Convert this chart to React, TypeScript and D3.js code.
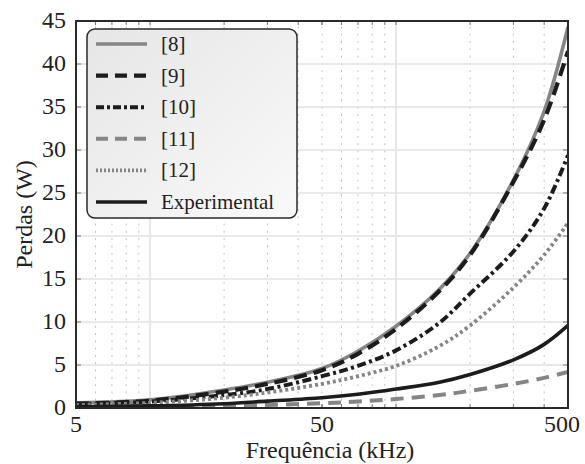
import React from "react";
import * as d3 from "d3";

const freqs = [5, 10, 20, 30, 50, 70, 100, 150, 200, 300, 400, 500];
const ref8 = [0.6, 0.95, 2.1, 3.0, 4.6, 6.6, 9.5, 13.8, 18.0, 26.5, 34.5, 44.3];
const ref9 = [0.5, 0.85, 1.9, 2.8, 4.4, 6.3, 9.2, 13.6, 17.8, 26.3, 33.5, 41.5];
const ref10 = [0.45, 0.75, 1.5, 2.2, 3.7, 4.9, 6.7, 9.9, 13.3, 18.2, 23.2, 29.4];
const ref11 = [0.05, 0.1, 0.25, 0.35, 0.55, 0.75, 1.05, 1.5, 2.0, 2.8, 3.5, 4.2];
const ref12 = [0.35, 0.6, 1.2, 1.8, 2.8, 3.7, 4.9, 7.2, 9.6, 14.0, 17.8, 21.5];
const experimental = [0.15, 0.25, 0.5, 0.8, 1.2, 1.6, 2.2, 3.0, 3.9, 5.6, 7.4, 9.6];

const seriesNames = ["[8]", "[9]", "[10]", "[11]", "[12]", "Experimental"];
const seriesValues = [ref8, ref9, ref10, ref11, ref12, experimental];

const xTickLabels = [5, 50, 500];
const yTicks = [0, 5, 10, 15, 20, 25, 30, 35, 40, 45];
const xMajorGrid = [10, 100];
const xMinorGrid = [6, 7, 8, 9, 20, 30, 40, 50, 60, 70, 80, 90, 200, 300, 400];

const GRAY = "#858585";
const BLACK = "#1c1c1c";
const styles = [
  { color: GRAY, dash: "none", width: 3.6 },
  { color: BLACK, dash: "13,7", width: 4.2 },
  { color: BLACK, dash: "9,3.5,3,3.5", width: 4 },
  { color: GRAY, dash: "13,8", width: 4 },
  { color: GRAY, dash: "3,3", width: 3.8 },
  { color: BLACK, dash: "none", width: 3.6 },
];

const FONT = '"Liberation Serif"';

export default function App() {
  const L = 76, R = 568, T = 21, B = 408;
  const x = d3.scaleLog().domain([5, 500]).range([L, R]);
  const y = d3.scaleLinear().domain([0, 45]).range([B, T]);
  const line = d3
    .line<[number, number]>()
    .x((d) => x(d[0]))
    .y((d) => y(d[1]))
    .curve(d3.curveCatmullRom.alpha(0.5));

  const legendX = 87, legendY = 29, legendW = 210, legendH = 189;
  const rowY = (i: number) => 44 + i * 31.6;
  const xLabelPos = (f: number) => (f === 500 ? R - 6 : x(f));
  const big = { fontFamily: FONT } as React.CSSProperties;

  return (
    <svg
      width={585}
      height={464}
      style={{ position: "absolute", left: 0, top: 0, background: "#fff" }}
    >
      <defs>
        <clipPath id="plotClip">
          <rect x={L} y={T} width={R - L} height={B - T} />
        </clipPath>
        <linearGradient id="legGrad" x1="0" y1="0" x2="1" y2="1">
          <stop offset="0" stopColor="#e6e6e6" />
          <stop offset="1" stopColor="#f9f9f9" />
        </linearGradient>
      </defs>
      <rect x={L} y={T} width={R - L} height={B - T} fill="#fff" />
      {xMinorGrid.map((f) => (
        <line
          key={"mg" + f}
          x1={x(f)}
          x2={x(f)}
          y1={B}
          y2={T}
          stroke="#c4c4c4"
          strokeWidth={1}
          strokeDasharray="2,5.3"
        />
      ))}
      {xMajorGrid.map((f) => (
        <line key={"Mg" + f} x1={x(f)} x2={x(f)} y1={B} y2={T} stroke="#e2e2e2" strokeWidth={1.6} />
      ))}
      {yTicks
        .filter((v) => v > 0 && v < 45)
        .map((v) => (
          <line key={"hy" + v} x1={L} x2={R} y1={y(v)} y2={y(v)} stroke="#e2e2e2" strokeWidth={1.6} />
        ))}
      {yTicks.map((v) => (
        <g key={"yt" + v}>
          <line x1={L} x2={L + 5} y1={y(v)} y2={y(v)} stroke="#777" strokeWidth={1} />
          <line x1={R} x2={R - 5} y1={y(v)} y2={y(v)} stroke="#777" strokeWidth={1} />
        </g>
      ))}
      {[...xMinorGrid, ...xMajorGrid, ...xTickLabels].map((f, i) => (
        <g key={"xt" + i}>
          <line x1={x(f)} x2={x(f)} y1={B} y2={B - 4} stroke="#777" strokeWidth={1} />
          <line x1={x(f)} x2={x(f)} y1={T} y2={T + 4} stroke="#777" strokeWidth={1} />
        </g>
      ))}
      <g clipPath="url(#plotClip)">
        {seriesValues.map((vals, i) => (
          <path
            key={"s" + i}
            d={line(freqs.map((f, j) => [f, vals[j]] as [number, number])) || ""}
            fill="none"
            stroke={styles[i].color}
            strokeWidth={styles[i].width}
            strokeDasharray={styles[i].dash}
          />
        ))}
      </g>
      <rect x={L} y={T} width={R - L} height={B - T} fill="none" stroke="#2a2a2a" strokeWidth={2} />
      {yTicks.map((v) => (
        <text key={"yl" + v} x={L - 10} y={y(v) + 7} textAnchor="end" fontSize={24} fill="#222" style={big}>
          {v}
        </text>
      ))}
      {xTickLabels.map((f) => (
        <text key={"xl" + f} x={xLabelPos(f)} y={432} textAnchor="middle" fontSize={24} fill="#222" style={big}>
          {f}
        </text>
      ))}
      <text x={(L + R) / 2 + 8} y={458} textAnchor="middle" fontSize={24} fill="#222" style={big}>
        Frequência (kHz)
      </text>
      <text
        x={32}
        y={(T + B) / 2}
        transform={`rotate(-90, 32, ${(T + B) / 2})`}
        textAnchor="middle"
        fontSize={24}
        fill="#222"
        style={big}
      >
        Perdas (W)
      </text>
      <rect
        x={legendX}
        y={legendY}
        width={legendW}
        height={legendH}
        rx={8}
        ry={8}
        fill="url(#legGrad)"
        stroke="#2a2a2a"
        strokeWidth={1.5}
      />
      {seriesNames.map((name, i) => (
        <g key={"lg" + i}>
          <line
            x1={96}
            x2={147}
            y1={rowY(i)}
            y2={rowY(i)}
            stroke={styles[i].color}
            strokeWidth={styles[i].width}
            strokeDasharray={i === 1 || i === 3 ? "12,7" : i === 2 ? "8,3,3,3" : i === 4 ? "2,2" : "none"}
          />
          <text x={161} y={rowY(i) + 7} fontSize={21} fill="#222" style={big}>
            {name}
          </text>
        </g>
      ))}
    </svg>
  );
}
